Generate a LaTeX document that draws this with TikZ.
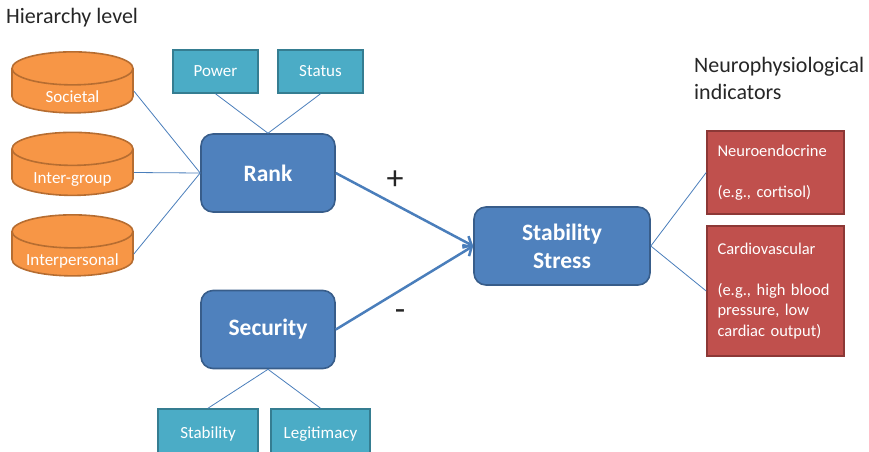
\documentclass[tikz,border=0pt]{standalone}
\usepackage{fontspec}
\setmainfont{Carlito}
\usepackage{tikz}
\usetikzlibrary{shapes.geometric, arrows.meta, positioning}
\definecolor{levelorange}{RGB}{247,150,70}
\definecolor{leveledge}{RGB}{182,109,49}
\definecolor{factorteal}{RGB}{75,172,198}
\definecolor{factoredge}{RGB}{53,125,145}
\definecolor{constructblue}{RGB}{79,129,189}
\definecolor{constructedge}{RGB}{56,93,138}
\definecolor{indicatorred}{RGB}{192,80,77}
\definecolor{indicatoredge}{RGB}{140,56,54}
\definecolor{linkblue}{RGB}{74,126,187}
\definecolor{textgray}{RGB}{38,38,38}
% text sits in the body of a can, below its lid
\newcommand{\canlabel}[1]{\raisebox{-11pt}[0pt][0pt]{\makebox[100pt]{#1}}}

\begin{document}
\frenchspacing
\begin{tikzpicture}[
    x=1pt, y=-1pt,
    >={Straight Barb[length=7pt, width=13pt]},
    % Node styles
    level/.style={cylinder, shape border rotate=90, aspect=0.33, minimum width=121pt,
                  minimum height=61pt, draw=leveledge, line width=1.6pt, fill=levelorange,
                  text=white, font=\fontsize{17}{20}\selectfont, inner sep=0pt},
    factor/.style={rectangle, minimum width=85pt, minimum height=43pt, draw=factoredge,
                   line width=1.6pt, fill=factorteal, text=white,
                   font=\fontsize{17}{20}\selectfont},
    construct/.style={rectangle, rounded corners=12pt, minimum width=134pt, minimum height=78pt,
                      draw=constructedge, line width=1.6pt, fill=constructblue, text=white,
                      align=center, font=\fontsize{23.5}{28}\selectfont\bfseries},
    indicator/.style={rectangle, minimum width=137pt, draw=indicatoredge, line width=1.6pt,
                      fill=indicatorred, text=white, text width=116pt, align=left,
                      font=\fontsize{16.5}{20.5}\selectfont},
    heading/.style={text=textgray, align=left, inner sep=0pt,
                    font=\fontsize{22}{27}\selectfont},
    sign/.style={text=textgray, font=\fontsize{34}{36}\selectfont},
    link/.style={linkblue, line width=0.8pt},
    arrow/.style={linkblue, line width=2.5pt, ->}
]
\clip (0,0) rectangle (869,451);

% Headings
\node (hierarchy) [heading, anchor=west] at (6,18) {Hierarchy level};
\node (neurohead) [heading, anchor=north west] at (694,57) {Neurophysiological\\indicators};

% Hierarchy levels
\node (societal) [level] at (72.5,91) {\canlabel{Societal}};
\node (intergroup) [level, minimum height=63pt] at (72.5,172.5) {\canlabel{Inter-group}};
\node (interpersonal) [level] at (72.5,254) {\canlabel{Interpersonal}};

% Constructs
\node (rank) [construct] at (268,173) {Rank};
\node (security) [construct] at (268,329.5) {Security};
\node (stress) [construct, minimum width=176pt] at (562,246) {Stability\\Stress};

% Facets
\node (power) [factor] at (215.5,71.5) {Power};
\node (status) [factor] at (320.5,71.5) {Status};
\node (stability) [factor, minimum width=100pt, minimum height=50pt] at (208,434) {Stability};
\node (legitimacy) [factor, minimum width=99pt, minimum height=50pt] at (320.5,434) {Legitimacy};

% Indicators
\node (neuro) [indicator, minimum height=83pt] at (775.5,172.5) {Neuroendocrine\\[20.5pt](e.g., cortisol)};
\node (cardio) [indicator, minimum height=130pt] at (775.5,291) {Cardiovascular\\[20.5pt](e.g., high blood\\pressure, low\\cardiac output)};

% Signs
\node (plus) [sign] at (395,180) {+};
\node (minus) [sign] at (400,315) {-};

% Links
\draw [link] (societal.east) -- (rank.west);
\draw [link] (intergroup.east) -- (rank.west);
\draw [link] (interpersonal.east) -- (rank.west);
\draw [link] (power.south) -- (rank.north);
\draw [link] (status.south) -- (rank.north);
\draw [link] (security.south) -- (stability.north);
\draw [link] (security.south) -- (legitimacy.north);
\draw [link] (stress.east) -- (neuro.west);
\draw [link] (stress.east) -- (cardio.west);

% Effects
\draw [arrow] (rank.east) -- (stress.west);
\draw [arrow] (security.east) -- (stress.west);

\end{tikzpicture}
\end{document}
